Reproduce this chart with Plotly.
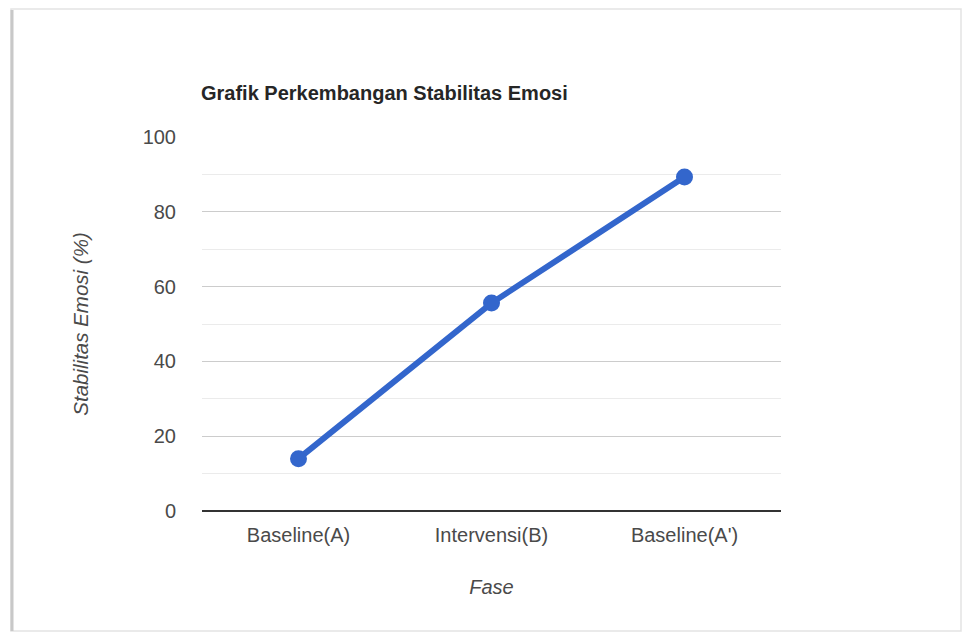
import plotly.graph_objects as go

# Phases of the single-subject design and emotional-stability scores (%)
fase = ["Baseline(A)", "Intervensi(B)", "Baseline(A')"]
stabilitas = [14, 55.6, 89.3]
y_ticks = [0, 20, 40, 60, 80, 100]

W, H = 965, 633
L, R, T, B = 202, 781, 137, 511  # plot area in pixels


def px(x):
    return (x - L) / (R - L)


def py(y):
    return (B - y) / (B - T)


fig = go.Figure()
fig.add_trace(go.Scatter(
    x=fase,
    y=stabilitas,
    mode="lines+markers",
    line=dict(color="#3366CC", width=6),
    marker=dict(color="#3366CC", size=17),
    hoverinfo="x+y",
    showlegend=False,
))

font = "Liberation Sans, Arial, sans-serif"
txt = "#4a4a4a"

fig.update_layout(
    width=W,
    height=H,
    margin=dict(l=L, r=W - R, t=T, b=H - B, pad=0),
    paper_bgcolor="white",
    plot_bgcolor="white",
    font=dict(family=font, color=txt, size=20),
    xaxis=dict(
        type="category",
        range=[-0.5, 2.5],
        showgrid=False,
        showline=False,
        zeroline=False,
        ticks="outside",
        ticklen=6,
        tickcolor="rgba(0,0,0,0)",
        tickfont=dict(size=20, color=txt),
        title=dict(text="<i>Fase</i>", font=dict(size=20, color=txt), standoff=34),
        fixedrange=True,
    ),
    yaxis=dict(
        range=[0, 100],
        tickvals=y_ticks,
        showgrid=True,
        gridcolor="#cccccc",
        gridwidth=1,
        minor=dict(dtick=10, showgrid=True, gridcolor="#ebebeb", gridwidth=1),
        zeroline=True,
        zerolinecolor="#333333",
        zerolinewidth=1.5,
        showline=False,
        ticks="outside",
        ticklen=21,
        tickcolor="rgba(0,0,0,0)",
        tickfont=dict(size=20, color=txt),
        title=dict(text="<i>Stabilitas Emosi (%)</i>", font=dict(size=20.5, color=txt), standoff=48),
        fixedrange=True,
    ),
)

# Chart title, left-aligned with the plot area
fig.add_annotation(
    text="<b>Grafik Perkembangan Stabilitas Emosi</b>",
    xref="paper", yref="paper",
    x=px(199), y=py(93),
    xanchor="left", yanchor="middle",
    showarrow=False,
    font=dict(family=font, size=20, color="#262626"),
)

# Card frame with a soft shadow on the left edge
fig.add_shape(type="rect", xref="paper", yref="paper",
              x0=px(11), x1=px(961), y0=py(631), y1=py(9),
              line=dict(color="#e3e3e3", width=1.5), layer="below")
fig.add_shape(type="line", xref="paper", yref="paper",
              x0=px(12), x1=px(12), y0=py(631), y1=py(10),
              line=dict(color="#c8c8c8", width=3), layer="below")

fig.write_html("out.html")
